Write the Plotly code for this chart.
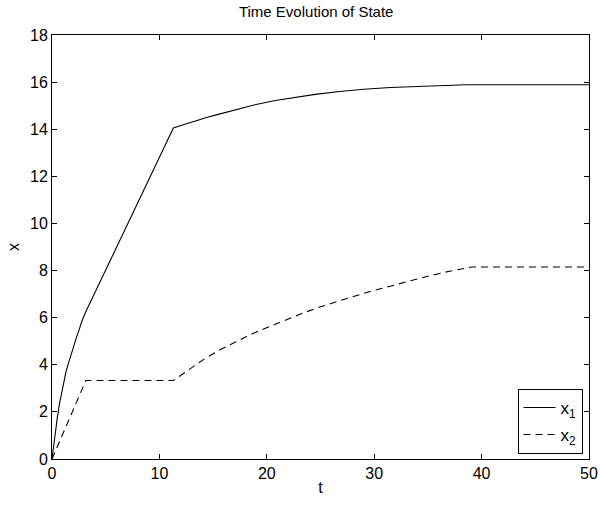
import plotly.graph_objects as go

t1 = [0, 0.1, 0.2, 0.35, 0.5, 0.7, 0.9, 1.1, 1.3, 1.5, 1.75, 2.0, 2.25, 2.5, 2.8, 3.2,
      11.3, 12.0, 12.8, 13.6, 14.4, 15.3, 16.2, 17.0,
      18.0, 19.0, 20.8, 22.5, 24.5, 26.8, 29.0, 31.5, 34.0, 36.1, 38.6, 50]
x1 = [0, 0.4, 0.78, 1.3, 1.78, 2.35, 2.85, 3.3, 3.7, 4.02, 4.42, 4.78, 5.12, 5.45, 5.88, 6.3,
      14.05, 14.16, 14.28, 14.39, 14.5, 14.61,
      14.72, 14.82, 14.94, 15.05, 15.22, 15.35, 15.48, 15.6, 15.7, 15.77, 15.82, 15.85, 15.89, 15.89]

t2 = [0, 3.15, 11.3, 12.7, 14.1, 15.6, 17.2, 18.7, 20.3, 21.8, 23.4, 25.0, 26.5, 28.0, 29.3, 30.7,
      32.0, 33.5, 34.9, 37.0, 39.1, 50]
x2 = [0, 3.33, 3.33, 3.78, 4.22, 4.63, 5.0, 5.33, 5.63, 5.92, 6.2, 6.46, 6.69, 6.89, 7.07, 7.24,
      7.4, 7.58, 7.75, 7.97, 8.15, 8.15]

xticks = [0, 10, 20, 30, 40, 50]
yticks = [0, 2, 4, 6, 8, 10, 12, 14, 16, 18]

FONT = "Liberation Sans, Arial, sans-serif"

fig = go.Figure()
fig.add_trace(go.Scatter(x=t1, y=x1, mode="lines", name="x<sub>1</sub>", legendgroup="a",
                         line=dict(color="black", width=1.1)))
fig.add_trace(go.Scatter(x=t2, y=x2, mode="lines", name="x<sub>2</sub>", legendgroup="b",
                         line=dict(color="black", width=1.1, dash="7px,5px")))

axis_common = dict(showline=True, linecolor="black", linewidth=1, mirror="ticks",
                   ticks="inside", ticklen=5, tickcolor="black", tickwidth=1,
                   showgrid=False, zeroline=False, automargin=False,
                   tickfont=dict(family=FONT, size=16, color="black"))

fig.update_layout(
    width=600, height=505,
    margin=dict(l=52, r=11, t=35, b=46),
    paper_bgcolor="white", plot_bgcolor="white",
    title=dict(text="Time Evolution of State", x=0.527, xanchor="center",
               y=0.976, yanchor="middle",
               font=dict(family=FONT, size=15, color="black")),
    xaxis=dict(range=[0, 50], tickvals=xticks, ticktext=[str(v) for v in xticks],
               title=dict(text="t", font=dict(family=FONT, size=16, color="black"), standoff=0),
               **axis_common),
    yaxis=dict(range=[0, 18], tickvals=yticks, ticktext=[str(v) for v in yticks],
               title=dict(text="x", font=dict(family=FONT, size=16, color="black"), standoff=6),
               **axis_common),
    legend=dict(x=0.988, y=0.012, xanchor="right", yanchor="bottom",
                bgcolor="white", bordercolor="black", borderwidth=1,
                font=dict(family=FONT, size=17, color="black"),
                itemwidth=32, tracegroupgap=2),
    showlegend=True,
)

fig.write_html("out.html", config={"displayModeBar": False},
               post_script="document.body.style.margin='0';document.body.style.padding='0';")
